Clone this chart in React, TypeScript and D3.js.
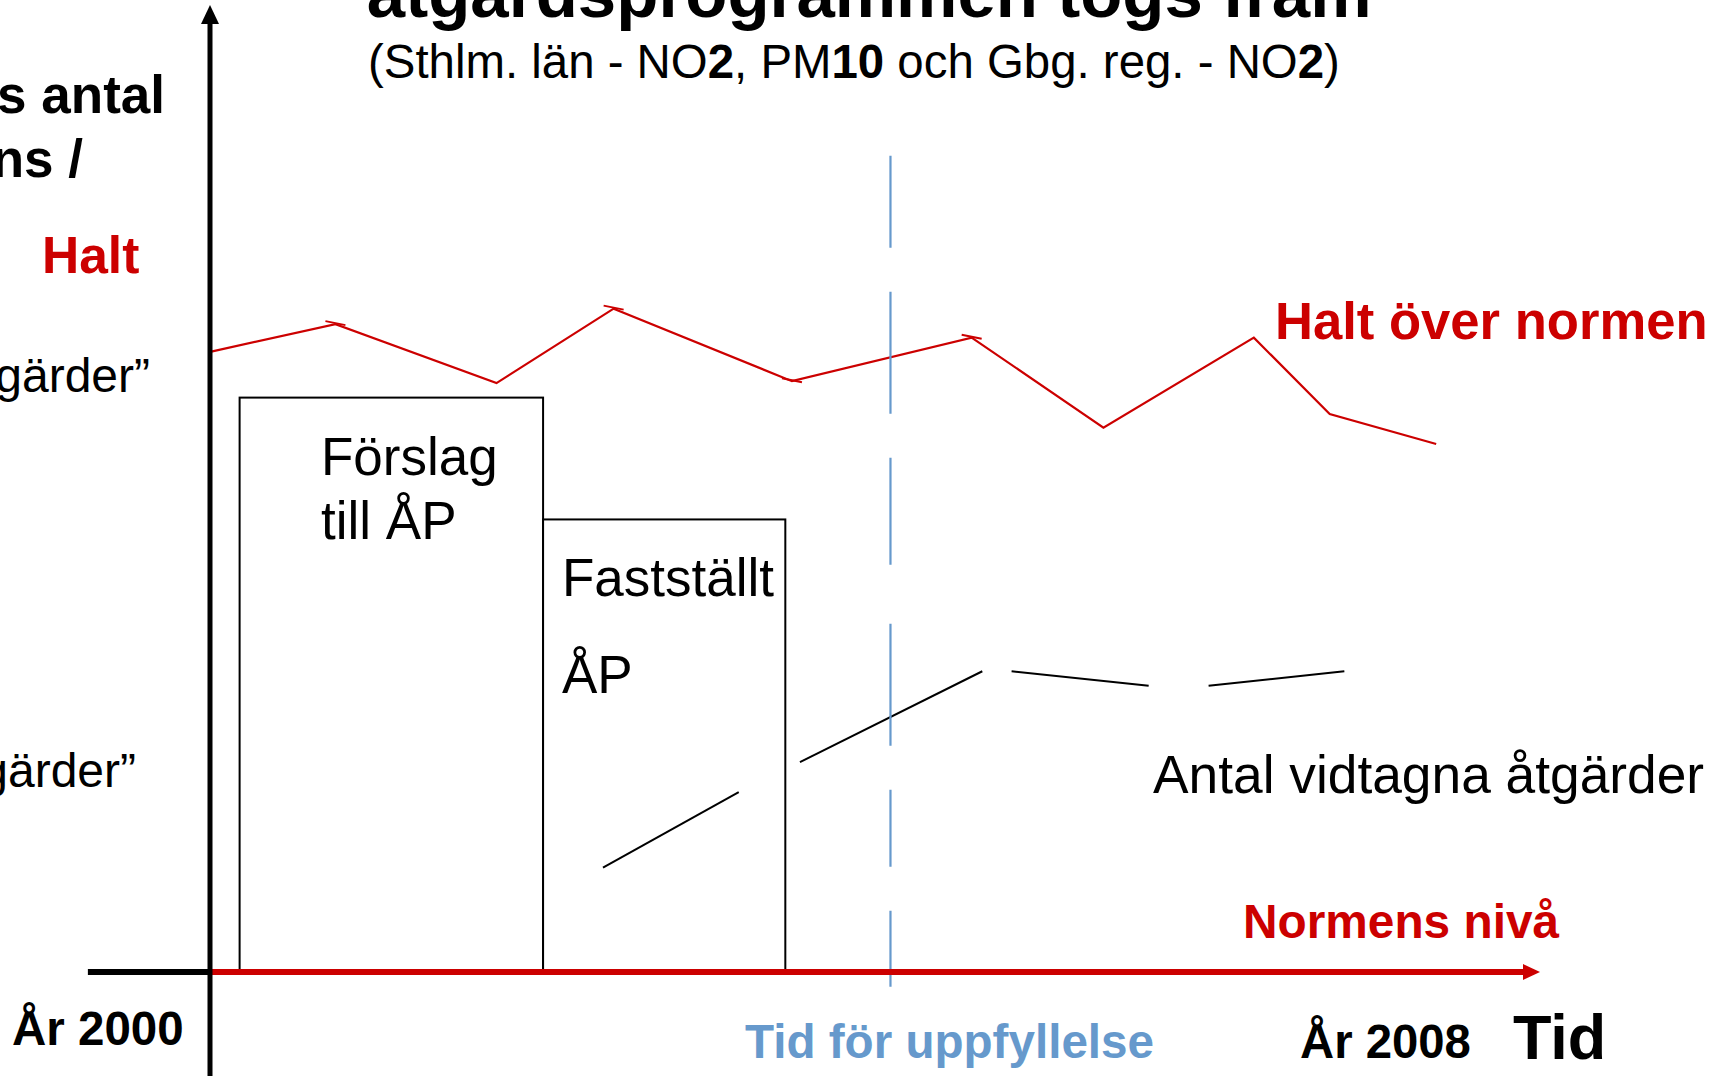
import * as d3 from 'd3'

// Principskiss: halt och antal åtgärder före/efter att åtgärdsprogrammen togs fram.
// Tid och halt är relativa (0–100), avlästa ur originalbilden.
const W = 1728, H = 1076
const FONT = '"Liberation Sans", Arial, sans-serif'
const RED = '#cc0000'
const BLUE = '#6699cc'

// halten (röd kurva)
const haltTid = [0, 9.5, 21.6, 30.4, 43.8, 57.3, 67.2, 78.5, 84.2, 92.2]
const haltVarde = [64.1, 67.0, 60.9, 68.6, 61.1, 65.6, 56.3, 65.6, 57.7, 54.6]
const haltMarkerade = [1, 3, 4, 5]

// antal vidtagna åtgärder (svart, bruten linje i fyra bitar)
const antalFranTid = [29.6, 44.4, 60.3, 75.1]
const antalTillTid = [39.8, 58.1, 70.6, 85.3]
const antalFranVarde = [10.8, 21.7, 31.1, 29.6]
const antalTillVarde = [18.6, 31.1, 29.6, 31.1]

// ÅP-faserna (staplar)
const apStart = [2.3, 25.1]
const apSlut = [25.1, 43.3]
const apNiva = [59.4, 46.8]

const uppfyllelseTid = 51.2
const axelStartTid = -9.1
const axelSlutTid = 100
const axelBottenVarde = -11
const axelToppVarde = 100

export default function App() {
  const x = d3.scaleLinear().domain([0, 100]).range([209, 1540])
  const y = d3.scaleLinear().domain([0, 100]).range([972, 5])

  const haltLine = d3.line<number>()
    .x((_, i) => x(haltTid[i]))
    .y(d => y(d))

  const x0 = x(0), y0 = y(0)
  const xEnd = x(axelSlutTid), yTop = y(axelToppVarde)

  return (
    <div style={{ position: 'absolute', left: 0, top: 0 }}>
      <svg width={W} height={H} style={{ display: 'block', fontFamily: FONT }}>
        <rect width={W} height={H} fill="#fff" />

        {/* rubrik (övre delen utanför bild) */}
        <text x={367} y={17} fontSize={69} fontWeight="bold" fill="#000">åtgärdsprogrammen togs fram</text>
        <text x={368} y={78} fontSize={47.4} fill="#000">
          (Sthlm. län - NO<tspan fontWeight="bold">2</tspan>, PM<tspan fontWeight="bold">10</tspan> och Gbg. reg. - NO<tspan fontWeight="bold">2</tspan>)
        </text>

        {/* y-axelns etiketter (avskurna till vänster) */}
        <text x={165} y={113} fontSize={53} fontWeight="bold" textAnchor="end">s antal</text>
        <text x={83} y={177} fontSize={53} fontWeight="bold" textAnchor="end">ns /</text>
        <text x={42} y={273} fontSize={51.5} fontWeight="bold" fill={RED}>Halt</text>
        <text x={150} y={392} fontSize={48} textAnchor="end">gärder”</text>
        <text x={136} y={787} fontSize={48} textAnchor="end">gärder”</text>

        {/* ÅP-staplar */}
        {apStart.map((s, i) => (
          <rect key={i} x={x(s)} y={y(apNiva[i])} width={x(apSlut[i]) - x(s)} height={y(0) - y(apNiva[i])}
            fill="#fff" stroke="#000" strokeWidth={2} />
        ))}
        <text x={321} y={475} fontSize={53}>Förslag</text>
        <text x={321} y={539} fontSize={53}>till ÅP</text>
        <text x={562} y={596} fontSize={53}>Fastställt</text>
        <text x={562} y={693} fontSize={53}>ÅP</text>

        {/* halt */}
        <path d={haltLine(haltVarde) ?? ''} fill="none" stroke={RED} strokeWidth={2.2} strokeLinejoin="miter" />
        {haltMarkerade.map(i => (
          <line key={i} x1={x(haltTid[i]) - 10} x2={x(haltTid[i]) + 10}
            y1={y(haltVarde[i]) - 3} y2={y(haltVarde[i]) + 1} stroke={RED} strokeWidth={2} />
        ))}
        <text x={1275} y={339} fontSize={52.6} fontWeight="bold" fill={RED}>Halt över normen</text>

        {/* antal vidtagna åtgärder */}
        {antalFranTid.map((t, i) => (
          <line key={i} x1={x(t)} y1={y(antalFranVarde[i])} x2={x(antalTillTid[i])} y2={y(antalTillVarde[i])}
            stroke="#000" strokeWidth={2} />
        ))}
        <text x={1153} y={793} fontSize={53.3}>Antal vidtagna åtgärder</text>

        {/* tid för uppfyllelse */}
        <line x1={x(uppfyllelseTid)} x2={x(uppfyllelseTid)} y1={y(84.4)} y2={y(-1.65)}
          stroke={BLUE} strokeWidth={2.2} strokeDasharray="92 44 122 44 107 59 122 44 77 44 76" />

        {/* axlar */}
        <line x1={x(axelStartTid)} x2={x0} y1={y0} y2={y0} stroke="#000" strokeWidth={6} />
        <line x1={x0} x2={xEnd - 17} y1={y0} y2={y0} stroke={RED} strokeWidth={6} />
        <path d={`M${xEnd},${y0} L${xEnd - 17},${y0 - 8} L${xEnd - 17},${y0 + 8} Z`} fill={RED} />
        <line x1={x0 + 1} x2={x0 + 1} y1={y(axelBottenVarde)} y2={yTop + 18} stroke="#000" strokeWidth={5} />
        <path d={`M${x0 + 1},${yTop} L${x0 - 8},${yTop + 19} L${x0 + 10},${yTop + 19} Z`} fill="#000" />

        <text x={1243} y={938} fontSize={47.8} fontWeight="bold" fill={RED}>Normens nivå</text>
        <text x={12} y={1045} fontSize={47.5} fontWeight="bold">År 2000</text>
        <text x={745} y={1058} fontSize={47.6} fontWeight="bold" fill={BLUE}>Tid för uppfyllelse</text>
        <text x={1300} y={1058} fontSize={47.3} fontWeight="bold">År 2008</text>
        <text x={1513} y={1059} fontSize={63} fontWeight="bold">Tid</text>
      </svg>
    </div>
  )
}
